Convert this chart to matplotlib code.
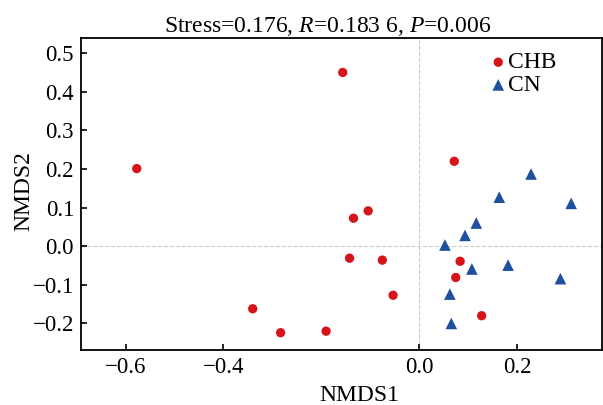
import matplotlib
matplotlib.use("Agg")
import matplotlib.pyplot as plt

plt.rcParams['font.family'] = ['Liberation Serif', 'DejaVu Serif']
plt.rcParams['mathtext.fontset'] = 'custom'
plt.rcParams['mathtext.rm'] = 'Liberation Serif'
plt.rcParams['mathtext.it'] = 'Liberation Serif:italic'

chb_x = [-0.156, -0.577, -0.104, -0.134, -0.142, -0.075, -0.053, -0.340, -0.283, -0.190,
         0.072, 0.084, 0.075, 0.128]
chb_y = [0.450, 0.201, 0.0915, 0.0725, -0.031, -0.036, -0.127, -0.162, -0.224, -0.220,
         0.220, -0.039, -0.081, -0.180]
cn_x = [0.229, 0.164, 0.311, 0.117, 0.094, 0.053, 0.108, 0.182, 0.289, 0.063, 0.066]
cn_y = [0.187, 0.127, 0.111, 0.060, 0.028, 0.003, -0.059, -0.049, -0.084, -0.124, -0.200]
groups = ['CHB', 'CN']
x_ticks = [-0.6, -0.4, 0.0, 0.2]
y_ticks = [-0.2, -0.1, 0.0, 0.1, 0.2, 0.3, 0.4, 0.5]
title = 'Stress=0.176, $R$=0.183 6, $P$=0.006'

fig = plt.figure(figsize=(6.03, 4.05), dpi=100)
ax = fig.add_axes([81/603, 1-349.7/405, 521/603, (349.7-37.7)/405])

ax.axhline(0, color='#cccccc', lw=0.8, ls='--', zorder=0)
ax.axvline(0, color='#cccccc', lw=0.8, ls='--', zorder=0)

ax.scatter(chb_x, chb_y, marker='o', s=45, color='#d7141a', edgecolors='none', label=groups[0], zorder=3)
ax.scatter(cn_x, cn_y, marker='^', s=70, color='#1f4f9f', edgecolors='none', label=groups[1], zorder=3)

ax.set_xlim(-0.691, 0.374)
ax.set_ylim(-0.268, 0.540)
ax.set_xticks(x_ticks)
ax.set_xticklabels(['%.1f' % v if v >= 0 else '\u2212%.1f' % -v for v in x_ticks])
ax.set_yticks(y_ticks)
ax.set_yticklabels(['%.1f' % v if v >= 0 else '\u2212%.1f' % -v for v in y_ticks])
ax.tick_params(direction='in', length=4, width=1.2, labelsize=16.5, pad=5)
for s in ax.spines.values():
    s.set_linewidth(1.3)

ax.set_xlabel('NMDS1', fontsize=17)
ax.xaxis.set_label_coords(0.5345, -0.112)
ax.set_ylabel('NMDS2', fontsize=17)
ax.yaxis.set_label_coords(-0.09, 0.508)
ax.set_title(title, fontsize=17, x=0.474, pad=3)

ax.legend(loc='upper right', bbox_to_anchor=(0.939, 1.0), frameon=False, fontsize=17,
          handletextpad=-0.1, labelspacing=0.05, borderaxespad=0.2, handlelength=1.0)

fig.savefig('out.png', dpi=100)
